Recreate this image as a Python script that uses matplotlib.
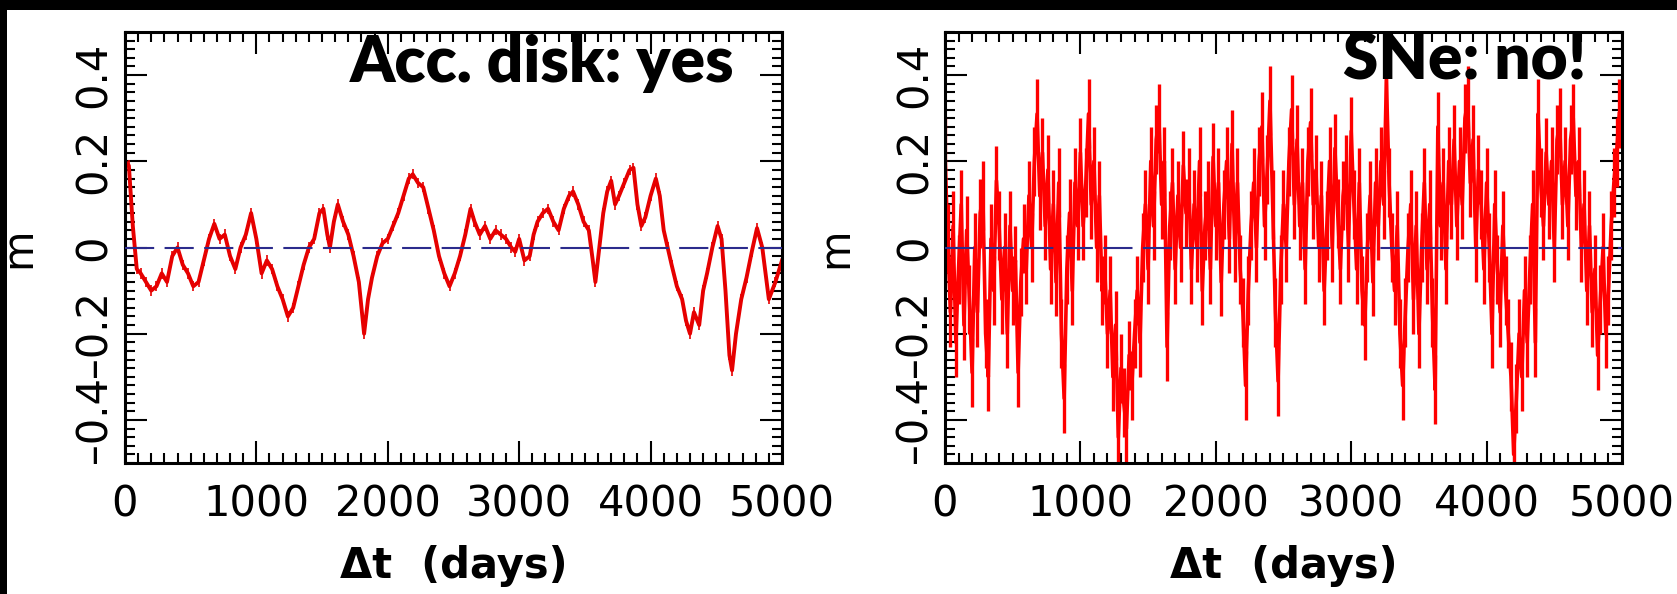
# two light-curve panels: accretion disk model vs supernova model
import matplotlib.pyplot as plt
from matplotlib.patches import Rectangle
from matplotlib.ticker import MultipleLocator

# accretion disk curve (left)
acc_days = [0, 30, 60, 90, 120, 160, 200, 240, 280, 320, 360, 400, 440, 480, 520,
            560, 600, 640, 680, 720, 760, 800, 840, 880, 920, 960, 1000, 1040, 1080,
            1120, 1160, 1200, 1240, 1280, 1320, 1360, 1400, 1440, 1480, 1510, 1540,
            1560, 1590, 1620, 1660, 1700, 1740, 1780, 1820, 1850, 1880, 1920, 1960,
            2000, 2040, 2080, 2120, 2160, 2190, 2230, 2270, 2310, 2350, 2390, 2430,
            2470, 2510, 2550, 2590, 2630, 2660, 2700, 2740, 2780, 2820, 2860, 2900,
            2940, 2970, 3000, 3040, 3080, 3110, 3140, 3180, 3220, 3260, 3300, 3340,
            3380, 3410, 3450, 3490, 3530, 3560, 3580, 3610, 3640, 3670, 3700, 3730,
            3760, 3800, 3840, 3870, 3900, 3930, 3960, 4000, 4040, 4070, 4100, 4130,
            4160, 4200, 4240, 4270, 4300, 4330, 4370, 4400, 4430, 4470, 4510, 4540,
            4570, 4600, 4620, 4650, 4690, 4730, 4770, 4810, 4850, 4900, 4950, 5000]
acc_mag = [0.20, 0.19, 0.05, -0.05, -0.06, -0.08, -0.10, -0.09, -0.06, -0.08, -0.02,
           0.0, -0.04, -0.06, -0.09, -0.08, -0.03, 0.02, 0.055, 0.02, 0.03, -0.02,
           -0.05, 0.0, 0.03, 0.08, 0.02, -0.06, -0.03, -0.05, -0.09, -0.12, -0.16,
           -0.14, -0.09, -0.04, 0.0, 0.02, 0.08, 0.09, 0.03, 0.0, 0.06, 0.10, 0.06,
           0.03, -0.02, -0.08, -0.20, -0.12, -0.07, -0.02, 0.01, 0.02, 0.05, 0.08,
           0.12, 0.16, 0.17, 0.15, 0.14, 0.09, 0.04, -0.02, -0.06, -0.09, -0.06,
           -0.02, 0.03, 0.09, 0.06, 0.03, 0.05, 0.02, 0.04, 0.03, 0.02, 0.0, -0.01,
           0.02, -0.03, -0.02, 0.03, 0.06, 0.08, 0.09, 0.06, 0.04, 0.09, 0.12, 0.13,
           0.10, 0.06, 0.04, -0.03, -0.08, 0.0, 0.08, 0.13, 0.155, 0.10, 0.12, 0.15,
           0.18, 0.185, 0.10, 0.05, 0.07, 0.12, 0.16, 0.12, 0.04, 0.0, -0.04, -0.09,
           -0.12, -0.17, -0.20, -0.15, -0.18, -0.10, -0.06, 0.0, 0.05, 0.02, -0.10,
           -0.25, -0.285, -0.20, -0.12, -0.07, -0.01, 0.045, 0.0, -0.12, -0.08, -0.03]
acc_err = 0.012

# supernova curve (right), one value every 20 days
sne_days = list(range(0, 5000, 20))
sne_mag = [0.22, 0.02, -0.15, 0.05, -0.22, -0.05, 0.10, -0.18, 0.04, -0.12,
           -0.29, 0.0, -0.15, 0.08, 0.12, -0.2, -0.30, 0.02, -0.1, 0.155,
           0.05, -0.12, 0.0, -0.2, 0.05, -0.1, -0.03, -0.29, -0.08, 0.02,
           -0.05, 0.12, 0.0, 0.2, 0.31, 0.12, 0.22, 0.05, 0.18, -0.05,
           0.1, -0.08, 0.15, -0.2, -0.35, -0.05, 0.08, -0.1, 0.15, 0.05,
           0.22, 0.05, 0.15, 0.31, 0.1, 0.2, 0.0, 0.12, -0.1, -0.05,
           -0.2, -0.1, -0.3, -0.18, -0.44, -0.28, -0.36, -0.42, -0.25, -0.32,
           -0.2, -0.1, -0.22, 0.0, 0.1, -0.05, 0.2, 0.05, 0.25, 0.30,
           0.1, 0.2, -0.23, 0.05, 0.15, -0.05, 0.12, 0.0, 0.19, 0.08,
           0.15, -0.05, 0.1, 0.0, 0.2, -0.1, 0.05, 0.12, -0.05, 0.21,
           0.05, 0.15, -0.08, 0.1, 0.2, 0.02, 0.24, 0.0, 0.15, -0.05,
           -0.15, -0.32, -0.1, 0.05, 0.15, 0.0, 0.2, 0.28, 0.05, 0.18,
           0.34, 0.1, -0.15, -0.31, -0.05, 0.1, 0.0, 0.2, 0.32, 0.1,
           0.25, 0.05, 0.15, -0.05, 0.2, 0.29, 0.1, 0.18, 0.0, 0.12,
           -0.1, 0.05, 0.2, 0.0, 0.23, 0.08, -0.05, 0.12, 0.18, 0.0,
           0.27, 0.1, -0.05, 0.15, -0.1, -0.18, 0.0, 0.12, -0.08, 0.15,
           0.05, 0.2, 0.1, 0.39, 0.15, 0.0, -0.1, 0.05, -0.2, -0.32,
           -0.15, 0.0, 0.1, -0.12, 0.05, -0.2, 0.0, 0.15, -0.05, 0.1,
           -0.15, -0.33, 0.28, 0.05, 0.15, -0.05, 0.2, 0.1, 0.25, 0.05,
           0.2, 0.1, 0.3, 0.34, 0.15, 0.25, 0.0, 0.18, 0.1, -0.05,
           0.15, 0.0, -0.2, 0.1, -0.05, -0.15, 0.05, -0.1, -0.2, -0.3,
           -0.48, -0.35, -0.2, -0.3, -0.1, -0.22, -0.05, 0.1, -0.22, 0.31,
           0.15, 0.05, 0.22, 0.1, 0.2, 0.0, 0.25, 0.29, 0.1, 0.2,
           0.05, 0.25, 0.30, 0.12, 0.2, 0.0, 0.1, -0.1, 0.05, -0.15,
           -0.05, -0.25, -0.12, 0.0, -0.2, -0.1, 0.05, 0.15, 0.22, 0.31]
sne_err = 0.08

x_ticks = [0, 1000, 2000, 3000, 4000, 5000]
x_tick_labels = ["0", "1000", "2000", "3000", "4000", "5000"]
y_ticks = [-0.4, -0.2, 0, 0.2, 0.4]
y_tick_labels = ["\u20130.4", "\u20130.2", "0", "0.2", "0.4"]
titles = ["Acc. disk: yes", "SNe: no!"]

fig = plt.figure(figsize=(16.77, 5.94), dpi=100)
fig.patch.set_facecolor("black")
# white sheet, leaving a thin black edge on top and left
fig.add_artist(Rectangle((7 / 1677, 0), 1, (594 - 10) / 594, transform=fig.transFigure,
                         facecolor="white", edgecolor="none", zorder=-10))

ax1 = fig.add_axes([0.0745, 0.2205, 0.3918, 0.7256])
ax2 = fig.add_axes([0.5635, 0.2205, 0.4037, 0.7256])

ax1.errorbar(acc_days, acc_mag, yerr=acc_err, color="#e60000", lw=2.8,
             elinewidth=1.2, capsize=0, zorder=2)
ax2.errorbar(sne_days, sne_mag, yerr=sne_err, color="#ff0000", lw=2.6,
             elinewidth=2.4, capsize=0, zorder=2)

title_pos = [(0.927, 0.885), (0.948, 0.89)]
for ax, title, (tx, ty) in zip([ax1, ax2], titles, title_pos):
    ax.axhline(0, color="#2b2b8c", lw=1.5, dashes=(14, 5), zorder=3)
    ax.set_xlim(0, 5000)
    ax.set_ylim(-0.5, 0.5)
    ax.set_xticks(x_ticks)
    ax.set_xticklabels(x_tick_labels, fontsize=30)
    ax.set_yticks(y_ticks)
    ax.set_yticklabels(y_tick_labels, fontsize=30, rotation=90, va="center")
    ax.xaxis.set_minor_locator(MultipleLocator(100))
    ax.yaxis.set_minor_locator(MultipleLocator(0.02))
    ax.tick_params(which="both", direction="in", top=True, right=True, width=1.5)
    ax.tick_params(which="major", length=16)
    ax.tick_params(which="minor", length=7)
    ax.tick_params(axis="x", which="major", pad=15)
    ax.tick_params(axis="y", which="major", pad=7)
    for s in ax.spines.values():
        s.set_linewidth(2.2)
    ax.set_xlabel("\u0394t  (days)", fontsize=30, fontweight="bold")
    ax.xaxis.set_label_coords(0.5, -0.19)
    ax.set_ylabel("m", fontsize=30)
    ax.text(tx, ty, title, transform=ax.transAxes, ha="right", va="baseline",
            fontsize=46, fontweight="heavy", family=["Lato", "DejaVu Sans"], zorder=5)

ax1.yaxis.set_label_coords(-0.13, 0.5)
ax2.yaxis.set_label_coords(-0.131, 0.5)

plt.savefig("out.png", dpi=100, facecolor=fig.get_facecolor())
